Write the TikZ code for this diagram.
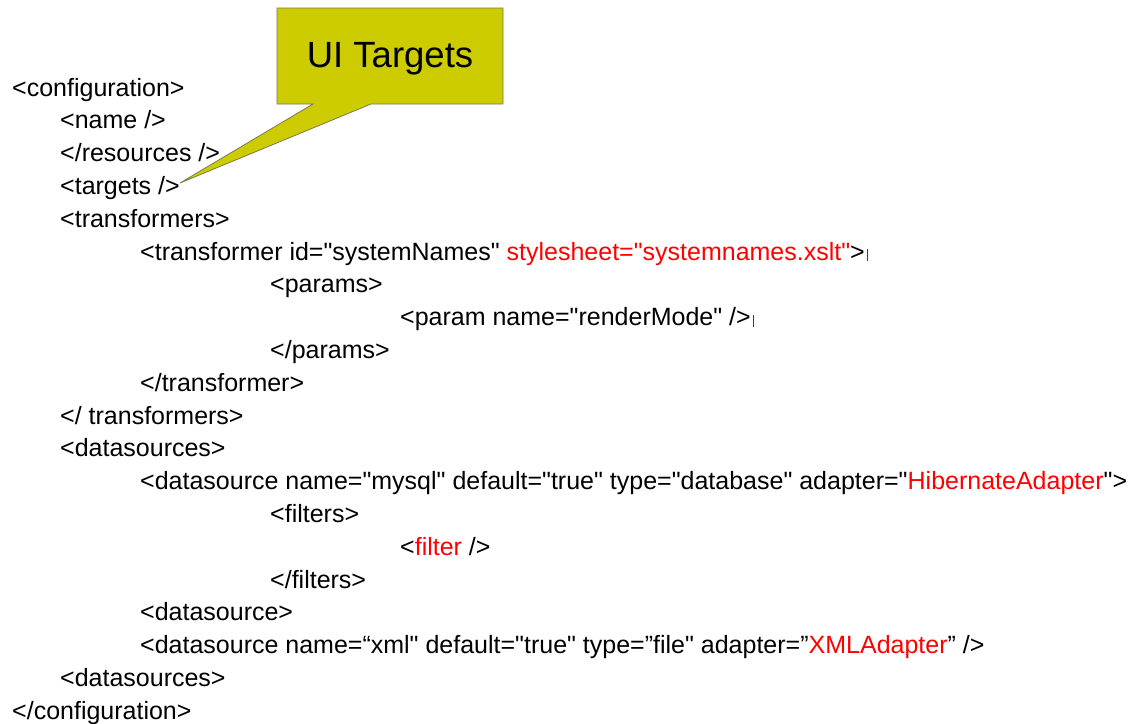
\documentclass[tikz,border=0pt]{standalone}
\usepackage{fontspec}
\setmainfont{Liberation Sans}[Ligatures=TeXOff]
\definecolor{xmlred}{HTML}{FF0000}
\definecolor{calloutfill}{HTML}{CCCC00}
\definecolor{calloutedge}{HTML}{7A7A50}
\newcommand{\attr}[1]{\textcolor{xmlred}{#1}}
\newcommand{\caret}{\hspace{2pt}\textcolor{black!75}{\rule[-1pt]{0.9pt}{12pt}}}
\tikzset{
  xml/.style={anchor=base west, inner sep=0pt, font=\fontsize{25}{30}\selectfont},
  calloutshape/.style={fill=calloutfill, draw=calloutedge, line width=0.8pt, line join=miter},
  callouttext/.style={inner sep=0pt, font=\fontsize{36.5}{42}\selectfont}
}
\begin{document}
\begin{tikzpicture}[x=1pt, y=-1pt]
  \useasboundingbox (0,0) rectangle (1132,723);
  % indentation columns
  \def\la{12}\def\lb{60}\def\lc{140}\def\ld{270}\def\le{400}
  \def\dy{32.8}
  % configuration listing
  \node[xml] (l0)  at (\la, 96+0*\dy)  {<configuration>};
  \node[xml] (l1)  at (\lb, 96+1*\dy)  {<name />};
  \node[xml] (l2)  at (\lb, 96+2*\dy)  {</resources />};
  \node[xml] (l3)  at (\lb, 96+3*\dy)  {<targets />};
  \node[xml] (l4)  at (\lb, 96+4*\dy)  {<transformers>};
  \node[xml] (l5)  at (\lc, 96+5*\dy)  {<transformer id="systemNames" \attr{stylesheet="systemnames.xslt"}>\caret};
  \node[xml] (l6)  at (\ld, 96+6*\dy)  {<params>};
  \node[xml] (l7)  at (\le, 96+7*\dy)  {<param name="renderMode" />\caret};
  \node[xml] (l8)  at (\ld, 96+8*\dy)  {</params>};
  \node[xml] (l9)  at (\lc, 96+9*\dy)  {</transformer>};
  \node[xml] (l10) at (\lb, 96+10*\dy) {</ transformers>};
  \node[xml] (l11) at (\lb, 96+11*\dy) {<datasources>};
  \node[xml] (l12) at (\lc, 96+12*\dy) {<datasource name="mysql" default="true" type="database" adapter="\attr{HibernateAdapter}">};
  \node[xml] (l13) at (\ld, 96+13*\dy) {<filters>};
  \node[xml] (l14) at (\le, 96+14*\dy) {<\attr{filter} />};
  \node[xml] (l15) at (\ld, 96+15*\dy) {</filters>};
  \node[xml] (l16) at (\lc, 96+16*\dy) {<datasource>};
  \node[xml] (l17) at (\lc, 96+17*\dy) {<datasource name=“xml" default="true" type=”file" adapter=”\attr{XMLAdapter}” />};
  \node[xml] (l18) at (\lb, 96+18*\dy) {<datasources>};
  \node[xml] (l19) at (\la, 96+19*\dy) {</configuration>};
  % callout pointing at the targets element
  \coordinate (tip) at (180,183);
  \draw[calloutshape] (277,8) -- (503,8) -- (503,104) -- (371,104) -- (tip) -- (313,104) -- (277,104) -- cycle;
  \node[callouttext] (ui) at (390,59) {UI Targets};
\end{tikzpicture}
\end{document}
